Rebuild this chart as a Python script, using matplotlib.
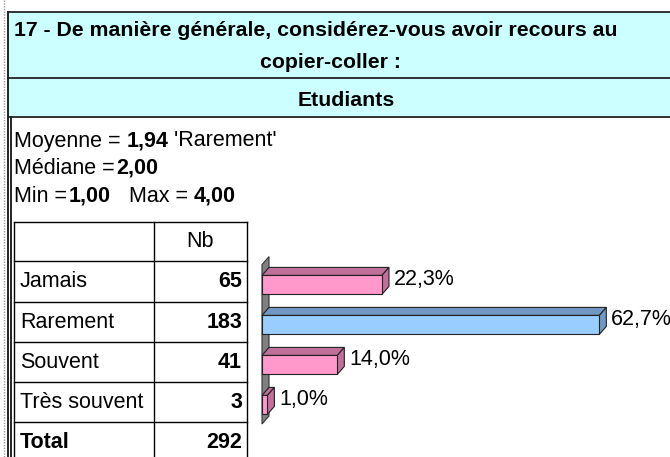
import matplotlib
matplotlib.use("Agg")
import matplotlib.pyplot as plt
from matplotlib.patches import Polygon, Rectangle

plt.rcParams["font.family"] = ["Liberation Sans", "DejaVu Sans"]

# survey data
title_lines = ["17 - De manière générale, considérez-vous avoir recours au",
               "copier-coller :"]
group = "Etudiants"
categories = ["Jamais", "Rarement", "Souvent", "Très souvent"]
counts = [65, 183, 41, 3]
percents = [22.3, 62.7, 14.0, 1.0]
total = 292
mean_val, mean_label = "1,94", "'Rarement'"
median_val = "2,00"
min_val, max_val = "1,00", "4,00"
highlight = "Rarement"

W, H = 670, 457
FS = 15.5
fig = plt.figure(figsize=(W / 100, H / 100), dpi=100)
fig.patch.set_facecolor("white")

# pixel canvas for the frame, text and table
cv = fig.add_axes([0, 0, 1, 1])
cv.set_xlim(0, W)
cv.set_ylim(H, 0)
cv.axis("off")
renderer = fig.canvas.get_renderer()

# left page borders
cv.plot([4, 4], [0, H], color="#9a9a9a", lw=1, ls=(0, (1, 1)))
cv.plot([8, 8], [12, H], color="black", lw=1.2)
cv.plot([11, 11], [117, H], color="black", lw=1.2)

# header box
cv.add_patch(Rectangle((8, 12), W, 105, facecolor="#CCFFFF", edgecolor="none"))
for y in (12, 78, 117):
    cv.plot([8, W], [y, y], color="#222222", lw=1.3)
cv.text(14, 30, title_lines[0], fontsize=15.3, fontweight="bold", va="center")
cv.text(330, 62, title_lines[1], fontsize=15.3, fontweight="bold",
        va="center", ha="center")
cv.text(346, 100, group, fontsize=15.3, fontweight="bold",
        va="center", ha="center")


def runs(x, y, parts):
    # draw text pieces one after another, each with its own weight
    for s, w, gap in parts:
        t = cv.text(x + gap, y, s, fontsize=FS, fontweight=w, va="center")
        x += gap + t.get_window_extent(renderer).width


runs(14, 141, [("Moyenne = ", "normal", 0), (mean_val, "bold", 0),
               (" " + mean_label, "normal", 0)])
runs(14, 168, [("Médiane =", "normal", 0), (median_val, "bold", 2)])
runs(14, 196, [("Min =", "normal", 0), (min_val, "bold", 2),
               ("   Max = ", "normal", 0), (max_val, "bold", 0)])

# frequency table
tx0, tx1, tx2 = 14, 154, 247
row_top = 222
row_lines = [222, 261, 302, 342, 382, 422, 462]
for y in row_lines:
    cv.plot([tx0, tx2], [y, y], color="black", lw=1)
for x in (tx0, tx1, tx2):
    cv.plot([x, x], [row_top, H], color="black", lw=1)
cv.text((tx1 + tx2) / 2, (row_lines[0] + row_lines[1]) / 2, "Nb",
        fontsize=FS, ha="center", va="center")
labels = categories + ["Total"]
values = counts + [total]
for i, (lab, v) in enumerate(zip(labels, values)):
    yc = (row_lines[i + 1] + row_lines[i + 2]) / 2
    w = "bold" if lab == "Total" else "normal"
    cv.text(tx0 + 6, yc, lab, fontsize=FS, fontweight=w, va="center")
    cv.text(tx2 - 5, yc, str(v), fontsize=FS, fontweight="bold",
            ha="right", va="center")

# 3D-style horizontal bars
px_per_pct = 5.38
cx0, cy_top, cy_bot = 262, 261, 421
ax = fig.add_axes([cx0 / W, (H - cy_bot) / H, (W - cx0) / W,
                   (cy_bot - cy_top) / H])
ax.set_xlim(0, (W - cx0) / px_per_pct)
ax.set_ylim(len(categories) - 0.5, -0.5)
ax.axis("off")

dx = 7 / px_per_pct
dy = 8 / 40

# side wall
wt, wb = -0.41, len(categories) - 0.425
ax.add_patch(Polygon([(0, wb), (dx, wb - dy), (dx, wt - dy), (0, wt)],
                     closed=True, facecolor="#808080", edgecolor="#333333",
                     lw=0.8, clip_on=False))

for i, (cat, p) in enumerate(zip(categories, percents)):
    if cat == highlight:
        front, shade = "#99CCFF", "#7098C2"
    else:
        front, shade = "#FF99CC", "#C0709A"
    y0, y1 = i - 0.14, i + 0.335
    kw = dict(closed=True, edgecolor="#222222", lw=0.8, clip_on=False)
    ax.add_patch(Polygon([(0, y0), (dx, y0 - dy), (p + dx, y0 - dy), (p, y0)],
                         facecolor=shade, **kw))
    ax.add_patch(Polygon([(p, y0), (p + dx, y0 - dy), (p + dx, y1 - dy), (p, y1)],
                         facecolor=shade, **kw))
    ax.add_patch(Polygon([(0, y0), (p, y0), (p, y1), (0, y1)],
                         facecolor=front, **kw))
    ax.text(p + dx + 5 / px_per_pct, i - 0.03, f"{p:.1f}%".replace(".", ","),
            fontsize=FS, va="center", ha="left", clip_on=False)

fig.savefig("out.png", dpi=100)
